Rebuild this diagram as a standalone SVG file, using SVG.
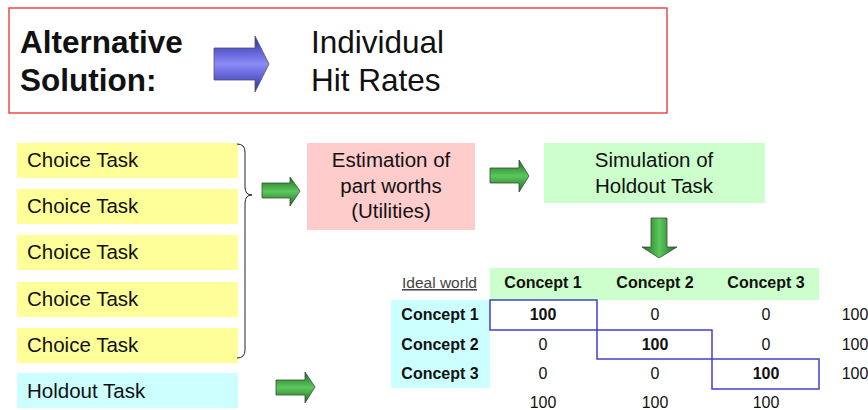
<svg xmlns="http://www.w3.org/2000/svg" width="868" height="410" viewBox="0 0 868 410">
<defs>
<linearGradient id="gBlue" x1="0" y1="0" x2="0" y2="1">
<stop offset="0" stop-color="#2a2ab0"/><stop offset="0.5" stop-color="#8c8cf5"/><stop offset="1" stop-color="#2a2ab0"/>
</linearGradient>
<linearGradient id="gGreenH" x1="0" y1="0" x2="0" y2="1">
<stop offset="0" stop-color="#1c6e1c"/><stop offset="0.5" stop-color="#5cc85c"/><stop offset="1" stop-color="#1c6e1c"/>
</linearGradient>
<linearGradient id="gGreenV" x1="0" y1="0" x2="1" y2="0">
<stop offset="0" stop-color="#1c6e1c"/><stop offset="0.5" stop-color="#5cc85c"/><stop offset="1" stop-color="#1c6e1c"/>
</linearGradient>
<style>
text{font-family:"Liberation Sans",Arial,sans-serif;fill:#111;}
.big{font-size:31.5px;}
.bold{font-weight:bold;}
.lab{font-size:20.5px;}
.mid{text-anchor:middle;}
.th{font-size:16px;font-weight:bold;text-anchor:middle;}
.num{font-size:16px;text-anchor:middle;}
.arrowH{fill:url(#gGreenH);stroke:#3a4a3a;stroke-width:0.8;}
.arrowV{fill:url(#gGreenV);stroke:#3a4a3a;stroke-width:0.8;}
.diag{fill:none;stroke:#4040d0;stroke-width:1.5;}
</style>
</defs>
<rect width="868" height="410" fill="#fff"/>

<g id="title">
<rect x="9" y="8" width="658" height="105" fill="#fff" stroke="#e83030" stroke-width="1.3"/>
<text class="big bold" x="20" y="53">Alternative</text>
<text class="big bold" x="20" y="91">Solution:</text>
<path d="M214,48 H255 V36 L269,64 L255,92 V80 H214 Z" fill="url(#gBlue)" stroke="#555" stroke-width="0.8"/>
<text class="big" x="311" y="53">Individual</text>
<text class="big" x="311" y="91">Hit Rates</text>
</g>

<g id="choice1"><rect x="17" y="143" width="221" height="35" fill="#ffff99"/><text class="lab" x="27" y="167">Choice Task</text></g>
<g id="choice2"><rect x="17" y="189" width="221" height="35" fill="#ffff99"/><text class="lab" x="27" y="213">Choice Task</text></g>
<g id="choice3"><rect x="17" y="235" width="221" height="35" fill="#ffff99"/><text class="lab" x="27" y="259">Choice Task</text></g>
<g id="choice4"><rect x="17" y="282" width="221" height="35" fill="#ffff99"/><text class="lab" x="27" y="306">Choice Task</text></g>
<g id="choice5"><rect x="17" y="328" width="221" height="35" fill="#ffff99"/><text class="lab" x="27" y="352">Choice Task</text></g>
<g id="holdout"><rect x="17" y="373" width="221" height="35" fill="#ccffff"/><text class="lab" x="27" y="398">Holdout Task</text></g>

<g id="estimation">
<rect x="307" y="143" width="168" height="87" fill="#ffcccc"/>
<text class="lab mid" x="391" y="167">Estimation of</text>
<text class="lab mid" x="391" y="193">part worths</text>
<text class="lab mid" x="391" y="218">(Utilities)</text>
</g>

<g id="simulation">
<rect x="544" y="143" width="221" height="60" fill="#ccffcc"/>
<text class="lab mid" x="654" y="167">Simulation of</text>
<text class="lab mid" x="654" y="193">Holdout Task</text>
</g>

<g id="connectors">
<path d="M237,144 Q245,144 245,152 V187 Q245,195 252,195 Q245,195 245,203 V350 Q245,358 237,358" fill="none" stroke="#222" stroke-width="1"/>
<path class="arrowH" d="M262,183 H290 V177 L300,191 L290,206 V198 H262 Z"/>
<path class="arrowH" d="M276,380 H305 V372 L315,387 L305,403 V395 H276 Z"/>
<path class="arrowH" d="M490,168 H519 V160 L529,176 L519,192 V183 H490 Z"/>
<path class="arrowV" d="M651,218 H667 V247 H677 L659,258 L642,247 H651 Z"/>
</g>

<g id="table">
<rect x="490" y="268" width="329" height="32" fill="#ccffcc"/>
<rect x="391" y="300" width="99" height="88" fill="#ccffff"/>
<text x="402" y="288" font-size="15.5" style="fill:#444" text-decoration="underline">Ideal world</text>
<text class="th" x="543" y="288">Concept 1</text>
<text class="th" x="655" y="288">Concept 2</text>
<text class="th" x="766" y="288">Concept 3</text>
<text class="th" x="440" y="320">Concept 1</text>
<text class="th" x="440" y="350">Concept 2</text>
<text class="th" x="440" y="379">Concept 3</text>
<rect class="diag" x="490" y="300" width="107" height="30"/>
<rect class="diag" x="597" y="330" width="115" height="29"/>
<rect class="diag" x="712" y="359" width="107" height="30"/>
<text class="num bold" x="543" y="320">100</text>
<text class="num" x="655" y="320">0</text>
<text class="num" x="766" y="320">0</text>
<text class="num" x="855" y="320">100</text>
<text class="num" x="543" y="350">0</text>
<text class="num bold" x="655" y="350">100</text>
<text class="num" x="766" y="350">0</text>
<text class="num" x="855" y="350">100</text>
<text class="num" x="543" y="379">0</text>
<text class="num" x="655" y="379">0</text>
<text class="num bold" x="766" y="379">100</text>
<text class="num" x="855" y="379">100</text>
<text class="num" x="543" y="408">100</text>
<text class="num" x="655" y="408">100</text>
<text class="num" x="766" y="408">100</text>
</g>
</svg>
